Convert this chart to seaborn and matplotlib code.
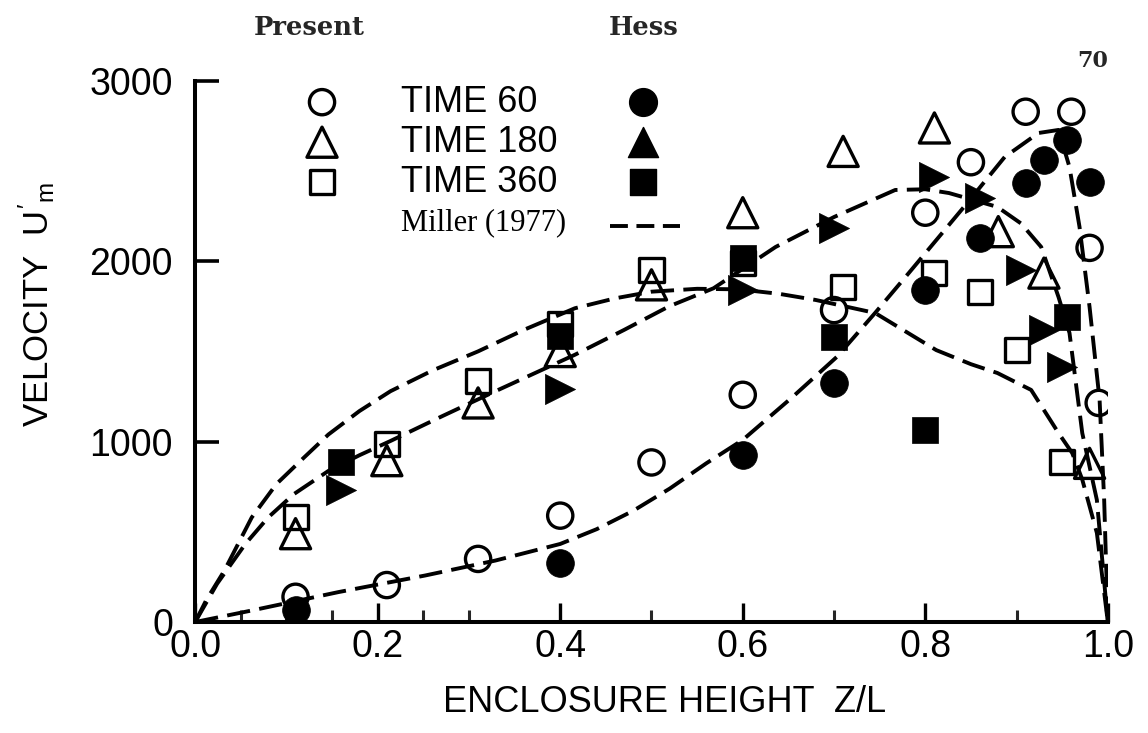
import matplotlib
matplotlib.use("Agg")
import matplotlib.pyplot as plt
from matplotlib.ticker import FixedLocator
import seaborn as sns
import pandas as pd

# ---------------- data ----------------
# Present (open markers)
p60_x = [0.11, 0.21, 0.31, 0.40, 0.50, 0.60, 0.70, 0.80, 0.85, 0.91, 0.96, 0.98, 0.99]
p60_y = [140, 205, 350, 590, 885, 1260, 1730, 2270, 2550, 2830, 2830, 2075, 1215]
p180_x = [0.11, 0.21, 0.31, 0.40, 0.50, 0.60, 0.71, 0.81, 0.88, 0.93, 0.98]
p180_y = [490, 895, 1215, 1500, 1870, 2270, 2610, 2740, 2165, 1935, 880]
p360_x = [0.11, 0.21, 0.31, 0.40, 0.50, 0.60, 0.71, 0.81, 0.86, 0.90, 0.95]
p360_y = [580, 985, 1335, 1655, 1950, 1990, 1860, 1935, 1830, 1510, 890]
# Hess (filled markers)
h60_x = [0.11, 0.40, 0.60, 0.70, 0.80, 0.86, 0.91, 0.93, 0.955, 0.98]
h60_y = [65, 330, 925, 1325, 1840, 2130, 2435, 2560, 2675, 2440]
h180_x = [0.16, 0.40, 0.60, 0.70, 0.81, 0.86, 0.905, 0.93, 0.95]
h180_y = [730, 1290, 1840, 2185, 2470, 2350, 1950, 1620, 1415]
h360_x = [0.16, 0.40, 0.60, 0.70, 0.80, 0.955]
h360_y = [885, 1585, 2020, 1580, 1065, 1690]
# Miller (1977) curves
mA_x = [0, 0.012, 0.032, 0.062, 0.089, 0.119, 0.146, 0.18, 0.214, 0.26, 0.31, 0.36, 0.416,
        0.46, 0.5, 0.55, 0.596, 0.64, 0.68, 0.745, 0.812, 0.85, 0.879, 0.916, 0.946,
        0.961, 0.972, 0.988, 1.0]
mA_y = [0, 120, 285, 580, 765, 911, 1040, 1170, 1280, 1395, 1501, 1620, 1740,
        1795, 1832, 1848, 1845, 1820, 1786, 1714, 1508, 1430, 1381, 1287, 1048,
        937, 790, 494, 0]
mB_x = [0, 0.024, 0.055, 0.08, 0.108, 0.146, 0.18, 0.214, 0.27, 0.329, 0.416, 0.47, 0.519,
        0.568, 0.636, 0.70, 0.767, 0.80, 0.826, 0.879, 0.905, 0.927, 0.946, 0.958,
        0.972, 0.988, 1.0]
mB_y = [0, 212, 433, 580, 709, 838, 925, 1004, 1140, 1280, 1482, 1620, 1750,
        1851, 2080, 2246, 2396, 2400, 2379, 2302, 2210, 2080, 1802, 1603,
        1048, 677, 0]
mC_x = [0, 0.062, 0.157, 0.252, 0.329, 0.40, 0.44, 0.48, 0.52, 0.56, 0.60, 0.655, 0.703,
        0.745, 0.782, 0.846, 0.887, 0.924, 0.946, 0.958, 0.969, 0.98, 0.991, 0.996, 1.0]
mC_y = [0, 64, 166, 258, 341, 433, 515, 617, 740, 880, 1010, 1250, 1470,
        1714, 1936, 2324, 2579, 2712, 2729, 2523, 2191, 1747, 1231, 677, 0]

x_ticks = [0.0, 0.2, 0.4, 0.6, 0.8, 1.0]
x_ticklabels = ["0.0", "0.2", "0.4", "0.6", "0.8", "1.0"]
x_minor = [0.05, 0.1, 0.15, 0.25, 0.3, 0.5, 0.7, 0.9]
y_ticks = [0, 1000, 2000, 3000]
y_ticklabels = ["0", "1000", "2000", "3000"]
legend_labels = ["TIME 60", "TIME 180", "TIME 360"]

# ---------------- style ----------------
sns.set_theme(style="white")
plt.rcParams["font.family"] = ["Liberation Sans", "DejaVu Sans"]
plt.rcParams["mathtext.fontset"] = "custom"
plt.rcParams["mathtext.rm"] = "Liberation Sans"
plt.rcParams["mathtext.it"] = "Liberation Sans"

fig = plt.figure(figsize=(11.48, 7.33), dpi=100)
ax = fig.add_axes([0.170, 0.1514, 0.795, 0.738])

LW = 2.8
DASH = (0, (6, 2.4))

for cx, cy in [(mA_x, mA_y), (mB_x, mB_y), (mC_x, mC_y)]:
    df = pd.DataFrame({"x": cx, "y": cy})
    sns.lineplot(data=df, x="x", y="y", ax=ax, sort=False, estimator=None,
                 color="black", zorder=2)
for ln in ax.lines:
    ln.set_linewidth(LW)
    ln.set_linestyle(DASH)

open_kw = dict(facecolor="none", edgecolor="black", linewidth=2.4, zorder=3, ax=ax)
fill_kw = dict(color="black", edgecolor="black", linewidth=0.5, zorder=4, ax=ax)

S_OC, S_OT, S_OS = 330, 470, 300
S_FC, S_FT, S_FS = 400, 470, 340
sns.scatterplot(x=p60_x, y=p60_y, marker="o", s=S_OC, **open_kw)
sns.scatterplot(x=p180_x, y=p180_y, marker="^", s=S_OT, **open_kw)
sns.scatterplot(x=p360_x, y=p360_y, marker="s", s=S_OS, **open_kw)
sns.scatterplot(x=h60_x, y=h60_y, marker="o", s=S_FC, **fill_kw)
sns.scatterplot(x=h180_x, y=h180_y, marker=">", s=S_FT, **fill_kw)
sns.scatterplot(x=h360_x, y=h360_y, marker="s", s=S_FS, **fill_kw)

ax.set_xlim(0, 1.0)
ax.set_ylim(0, 3000)
ax.xaxis.set_major_locator(FixedLocator(x_ticks))
ax.set_xticklabels(x_ticklabels)
ax.xaxis.set_minor_locator(FixedLocator(x_minor))
ax.yaxis.set_major_locator(FixedLocator(y_ticks))
ax.set_yticklabels(y_ticklabels)
ax.set_xlabel("")
ax.set_ylabel("")

for s in ["top", "right"]:
    ax.spines[s].set_visible(False)
for s in ["left", "bottom"]:
    ax.spines[s].set_linewidth(2.9)
    ax.spines[s].set_color("black")

ax.tick_params(axis="x", which="major", direction="in", length=14, width=2.4,
               pad=5, labelsize=27, colors="black")
ax.tick_params(axis="x", which="minor", direction="in", length=9, width=2.2,
               bottom=True)
ax.tick_params(axis="y", which="major", direction="in", length=17, width=2.6,
               pad=16, labelsize=27, colors="black")
ax.tick_params(axis="both", bottom=True, left=True)

# axis titles
fig.text(0.579, 0.042, "ENCLOSURE HEIGHT  Z/L", ha="center", va="center",
         fontsize=26, color="black")
fig.text(0.032, 0.585, "VELOCITY  $U'_{m}$", ha="center", va="center",
         rotation=90, fontsize=25, color="black")

# legend drawn by hand (two marker columns)
rows_y = [0.961, 0.887, 0.813]
mk = ["o", "^", "s"]
s_open = [S_OC, S_OT, S_OS]
s_fill = [S_FC, S_FT, S_FS]
for yy, m, so, sf, lab in zip(rows_y, mk, s_open, s_fill, legend_labels):
    ax.scatter([0.139], [yy], transform=ax.transAxes, marker=m, s=so,
               facecolor="none", edgecolor="black", linewidth=2.4, clip_on=False)
    ax.scatter([0.491], [yy], transform=ax.transAxes, marker=m, s=sf,
               color="black", clip_on=False)
    ax.text(0.226, yy, lab, transform=ax.transAxes, ha="left", va="center",
            fontsize=26, color="black")
ax.text(0.226, 0.739, "Miller (1977)", transform=ax.transAxes, ha="left",
        va="center", fontsize=22, family=["Liberation Serif", "DejaVu Serif"],
        color="black")
ax.plot([0.454, 0.531], [0.733, 0.733], transform=ax.transAxes, color="black",
        linewidth=LW, linestyle=(0, (4.6, 2.2)), clip_on=False)

# header texts
SERIF_B = ["DejaVu Serif", "Liberation Serif"]
fig.text(0.269, 0.963, "Present", ha="center", va="center", fontsize=18.5,
         family=SERIF_B, fontweight="bold")
fig.text(0.561, 0.962, "Hess", ha="center", va="center", fontsize=18.5,
         family=SERIF_B, fontweight="bold")
fig.text(0.952, 0.917, "70", ha="center", va="center", fontsize=16,
         family=SERIF_B, fontweight="bold")

fig.savefig("out.png", dpi=100, facecolor="white")
